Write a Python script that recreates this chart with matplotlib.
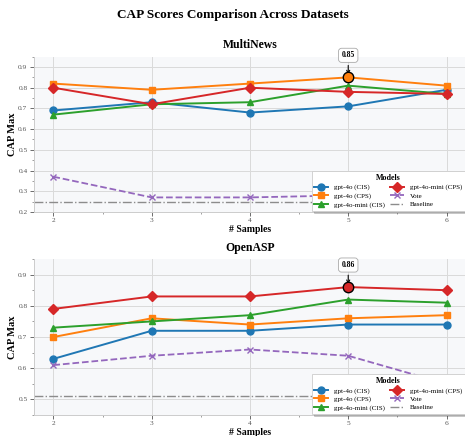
import matplotlib
matplotlib.use("Agg")
import matplotlib.pyplot as plt
from matplotlib.ticker import MultipleLocator, AutoMinorLocator

plt.rcParams['font.family'] = ['Liberation Serif', 'DejaVu Serif']

samples = [2, 3, 4, 5, 6]

# MultiNews
mn_4o_cis = [0.69, 0.73, 0.68, 0.71, 0.79]
mn_4o_cps = [0.82, 0.79, 0.82, 0.85, 0.81]
mn_mini_cis = [0.67, 0.72, 0.73, 0.81, 0.77]
mn_mini_cps = [0.80, 0.72, 0.80, 0.78, 0.77]
mn_vote = [0.37, 0.27, 0.27, 0.28, 0.30]
mn_baseline = 0.25

# OpenASP
oa_4o_cis = [0.63, 0.72, 0.72, 0.74, 0.74]
oa_4o_cps = [0.70, 0.76, 0.74, 0.76, 0.77]
oa_mini_cis = [0.73, 0.75, 0.77, 0.82, 0.81]
oa_mini_cps = [0.79, 0.83, 0.83, 0.86, 0.85]
oa_vote = [0.61, 0.64, 0.66, 0.64, 0.55]
oa_baseline = 0.51

labels = ['gpt-4o (CIS)', 'gpt-4o (CPS)', 'gpt-4o-mini (CIS)', 'gpt-4o-mini (CPS)']
colors = ['#1f77b4', '#ff7f0e', '#2ca02c', '#d62728']
markers = ['o', 's', '^', 'D']

fig = plt.figure(figsize=(4.65, 4.36), dpi=100)
fig.suptitle('CAP Scores Comparison Across Datasets', fontsize=9.5, fontweight='bold', y=0.98)

ax1 = fig.add_axes([0.0725, 0.514, 0.93, 0.356])
ax2 = fig.add_axes([0.0725, 0.048, 0.93, 0.358])


def draw(ax, title, series, vote, baseline, ylim):
    ax.set_facecolor('#f7f8fa')
    for vals, lab, c, m in zip(series, labels, colors, markers):
        ax.plot(samples, vals, color=c, marker=m, markersize=5, linewidth=1.4, label=lab)
    ax.plot(samples, vote, color='#9467bd', marker='x', markersize=5, linewidth=1.3,
            linestyle='--', label='Vote')
    ax.axhline(baseline, color='#8c8c8c', linestyle='-.', linewidth=1.0, label='Baseline')

    # highlight best point
    best_val = -1
    best = None
    for vals, c in zip(series, colors):
        for x, v in zip(samples, vals):
            if v > best_val:
                best_val = v
                best = (x, v, c)
    bx, bv, bc = best
    ax.plot([bx], [bv], marker='o', markersize=7.5, color=bc,
            markeredgecolor='black', markeredgewidth=1.0, zorder=5)
    ax.annotate(f'{bv:.2f}', xy=(bx, bv), xytext=(0, 13), textcoords='offset points',
                ha='center', va='bottom', fontsize=5.5, fontweight='bold',
                bbox=dict(boxstyle='round,pad=0.4', fc='white', ec='#aaaaaa', lw=0.6),
                arrowprops=dict(arrowstyle='->', color='black', lw=0.8))

    ax.set_title(title, fontsize=8.5, fontweight='bold', pad=6)
    ax.set_ylabel('CAP Max', fontsize=7.5, fontweight='bold')
    ax.yaxis.set_label_coords(-0.039, 0.5)
    ax.set_xlim(1.8, 6.2)
    ax.set_ylim(*ylim)
    ax.set_xticks(samples)
    ax.yaxis.set_major_locator(MultipleLocator(0.1))
    ax.xaxis.set_minor_locator(AutoMinorLocator(2))
    ax.yaxis.set_minor_locator(AutoMinorLocator(2))
    ax.tick_params(axis='both', which='major', labelsize=5.3, colors='#555555',
                   length=3, width=0.6, pad=1.5)
    ax.tick_params(axis='both', which='minor', colors='#777777', length=1.5, width=0.5)
    ax.grid(True, which='major', color='#dadada', linewidth=0.7)
    for side in ['top', 'right']:
        ax.spines[side].set_visible(False)
    for side in ['left', 'bottom']:
        ax.spines[side].set_color('#cccccc')
        ax.spines[side].set_linewidth(0.7)
    leg = ax.legend(loc='lower right', ncol=2, fontsize=5, title='Models',
                    title_fontproperties={'weight': 'bold', 'size': 5.8},
                    frameon=True, shadow={'alpha': 0.25, 'ox': 2, 'oy': -2},
                    fancybox=False, borderaxespad=0.2, handlelength=2.0,
                    columnspacing=0.8, labelspacing=0.35, borderpad=0.4)
    leg.get_frame().set_edgecolor('#cccccc')
    leg.get_frame().set_linewidth(0.6)
    leg.set_zorder(10)


draw(ax1, 'MultiNews', [mn_4o_cis, mn_4o_cps, mn_mini_cis, mn_mini_cps],
     mn_vote, mn_baseline, (0.2, 0.95))
draw(ax2, 'OpenASP', [oa_4o_cis, oa_4o_cps, oa_mini_cis, oa_mini_cps],
     oa_vote, oa_baseline, (0.45, 0.95))

ax1.set_xlabel('# Samples', fontsize=7, fontweight='bold', labelpad=1)
ax2.set_xlabel('# Samples', fontsize=7, fontweight='bold', labelpad=1)

fig.savefig('out.png', dpi=100)
